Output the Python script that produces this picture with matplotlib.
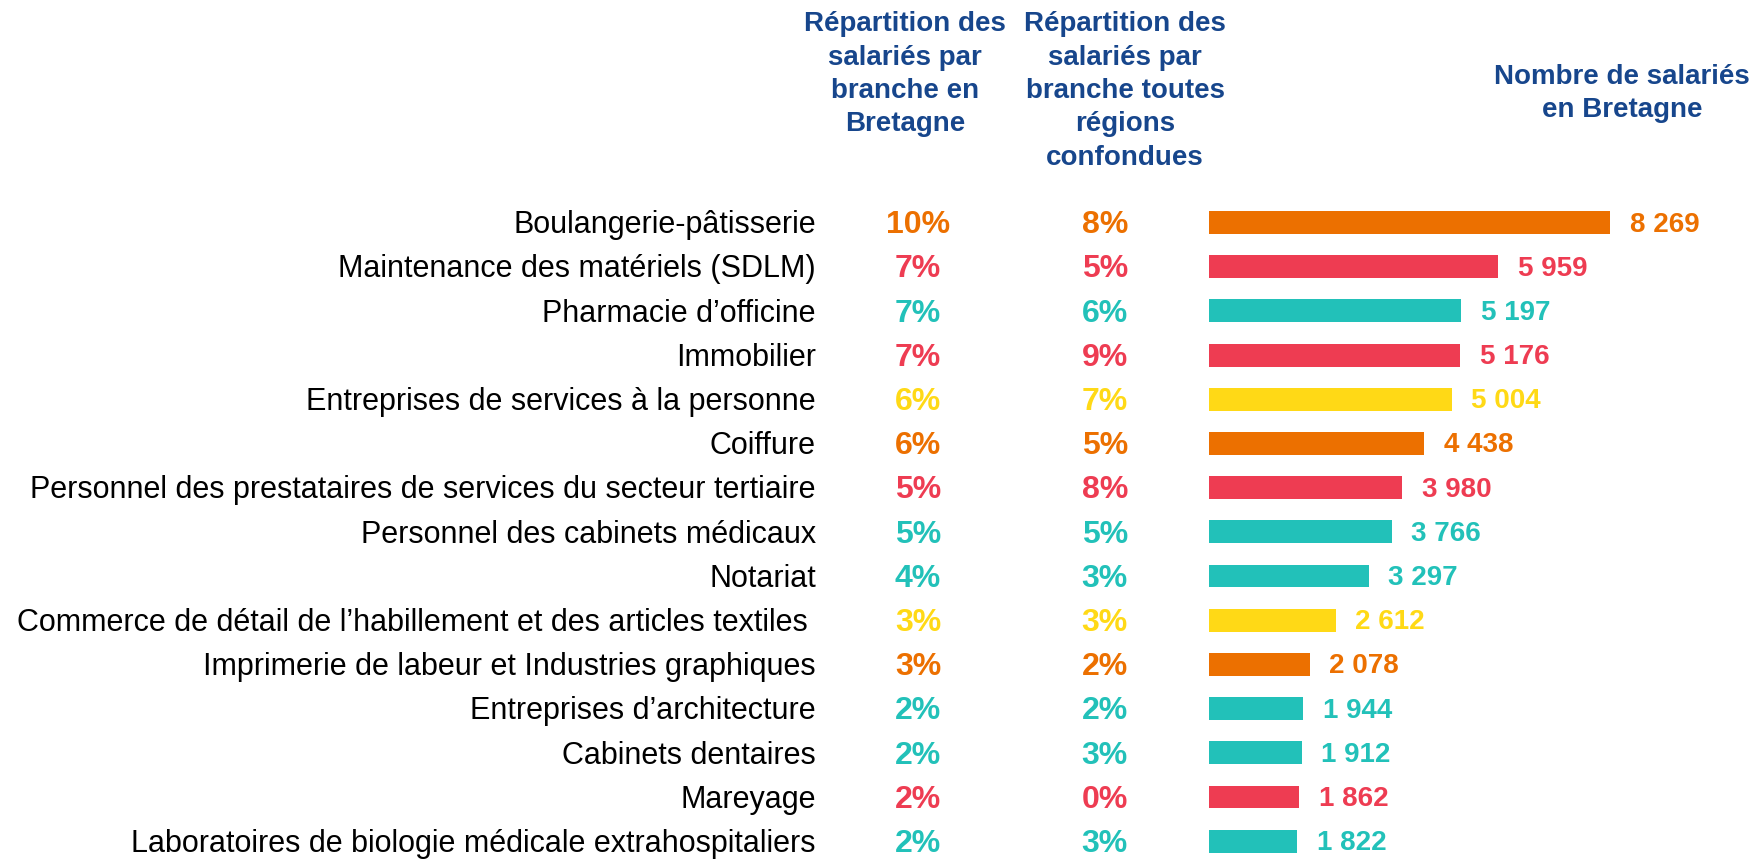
import matplotlib
matplotlib.use("Agg")
import matplotlib.pyplot as plt
import matplotlib.transforms as mtransforms

plt.rcParams['font.family'] = ['Liberation Sans', 'DejaVu Sans']

# Branches (top to bottom)
branches = [
    "Boulangerie-pâtisserie",
    "Maintenance des matériels (SDLM)",
    "Pharmacie d\u2019officine",
    "Immobilier",
    "Entreprises de services à la personne",
    "Coiffure",
    "Personnel des prestataires de services du secteur tertiaire",
    "Personnel des cabinets médicaux",
    "Notariat",
    "Commerce de détail de l\u2019habillement et des articles textiles ",
    "Imprimerie de labeur et Industries graphiques",
    "Entreprises d\u2019architecture",
    "Cabinets dentaires",
    "Mareyage",
    "Laboratoires de biologie médicale extrahospitaliers",
]
pct_bretagne = [10, 7, 7, 7, 6, 6, 5, 5, 4, 3, 3, 2, 2, 2, 2]
pct_france = [8, 5, 6, 9, 7, 5, 8, 5, 3, 3, 2, 2, 3, 0, 3]
salaries = [8269, 5959, 5197, 5176, 5004, 4438, 3980, 3766, 3297, 2612, 2078, 1944, 1912, 1862, 1822]
groups = ['orange', 'red', 'teal', 'red', 'yellow', 'orange', 'red', 'teal', 'teal',
          'yellow', 'orange', 'teal', 'teal', 'red', 'teal']

palette = {'orange': '#EC7000', 'red': '#EE3C52', 'teal': '#22C1B9', 'yellow': '#FFD916'}
colors = [palette[g] for g in groups]
header_color = '#17468C'

headers = [
    "Répartition des\nsalariés par\nbranche en\nBretagne",
    "Répartition des\nsalariés par\nbranche toutes\nrégions\nconfondues",
    "Nombre de salariés\nen Bretagne",
]

fig = plt.figure(figsize=(17.62, 8.59), dpi=100)
ax = fig.add_axes([0.6862, -0.005, 0.3028, 0.7718])

y = list(range(len(branches)))
ax.barh(y, salaries, height=0.52, color=colors)
ax.set_xlim(0, 11000)
ax.set_ylim(len(branches) - 0.5, -0.5)
ax.axis('off')

for i, v in enumerate(salaries):
    ax.annotate(f"{v:,}".replace(",", " "), (v, i), xytext=(14, -1.5),
                textcoords='offset points', va='center', ha='left',
                fontsize=20, fontweight='bold', color=colors[i])

# labels and percentage columns: figure x, data y (nudged down a little)
shift = mtransforms.ScaledTranslation(0, -2 / 72, fig.dpi_scale_trans)
trans = mtransforms.blended_transform_factory(fig.transFigure, ax.transData) + shift
for i, name in enumerate(branches):
    ax.text(0.463, i, name, transform=trans, ha='right', va='center',
            fontsize=22, color='black')
    ax.text(0.521, i, f"{pct_bretagne[i]}%", transform=trans, ha='center', va='center',
            fontsize=23, fontweight='bold', color=colors[i])
    ax.text(0.627, i, f"{pct_france[i]}%", transform=trans, ha='center', va='center',
            fontsize=23, fontweight='bold', color=colors[i])

# column headers
fig.text(0.5136, 0.987, headers[0], ha='center', va='top', fontsize=20,
         fontweight='bold', color=header_color, linespacing=1.37)
fig.text(0.6385, 0.987, headers[1], ha='center', va='top', fontsize=20,
         fontweight='bold', color=header_color, linespacing=1.37)
fig.text(0.9205, 0.926, headers[2], ha='center', va='top', fontsize=20,
         fontweight='bold', color=header_color, linespacing=1.37)

fig.savefig("out.png", dpi=100)
